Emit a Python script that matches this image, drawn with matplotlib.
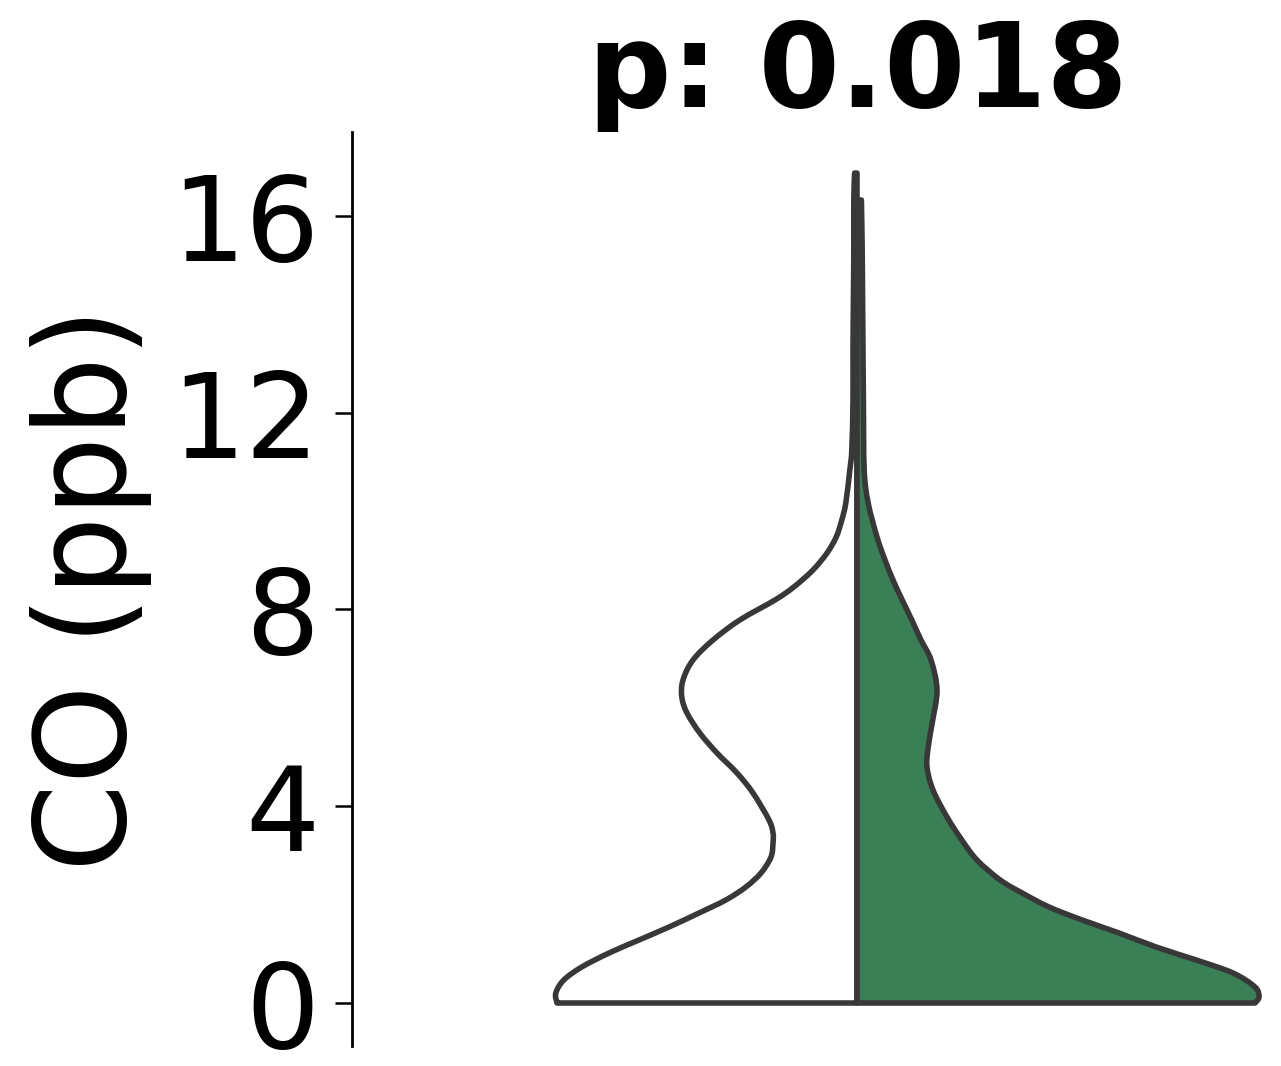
import matplotlib
matplotlib.use("Agg")
import matplotlib.pyplot as plt
from matplotlib.path import Path
from matplotlib.patches import PathPatch
import numpy as np

# ---- data ----
title_text = "p: 0.018"
ylabel_text = "CO (ppb)"
yticks = [0, 4, 8, 12, 16]

# left half (white): CO values (ppb) and relative density width
left_y = [0.000, 0.203, 0.468, 0.732, 1.016, 1.281, 1.545, 1.830, 2.094, 2.358,
          2.643, 2.968, 3.253, 3.456, 3.720, 4.269, 4.676, 5.082, 5.489, 5.895,
          6.221, 6.566, 6.973, 7.379, 7.786, 8.193, 8.457, 8.803, 9.148, 9.473,
          9.819, 10.165, 10.835, 11.242, 12.258, 13.275, 14.291, 15.308, 16.324,
          16.873]
left_w = [0.750, 0.753, 0.733, 0.688, 0.620, 0.545, 0.470, 0.395, 0.328, 0.278,
          0.240, 0.215, 0.210, 0.210, 0.220, 0.260, 0.300, 0.350, 0.393, 0.425,
          0.438, 0.435, 0.410, 0.360, 0.293, 0.205, 0.158, 0.110, 0.075, 0.052,
          0.038, 0.028, 0.018, 0.013, 0.010, 0.010, 0.009, 0.008, 0.008,
          0.006]

# right half (green)
right_y = [0.000, 0.122, 0.325, 0.610, 0.874, 1.138, 1.423, 1.687, 1.952, 2.236,
           2.500, 2.907, 3.314, 3.781, 4.330, 4.798, 5.204, 5.692, 6.363, 6.973,
           7.379, 7.786, 8.193, 8.599, 9.006, 9.473, 10.165, 10.835, 12.258,
           13.275, 14.291, 15.308, 16.324]
right_w = [0.995, 1.005, 0.995, 0.940, 0.848, 0.748, 0.655, 0.563, 0.480, 0.413,
           0.358, 0.300, 0.262, 0.225, 0.190, 0.175, 0.178, 0.188, 0.200, 0.185,
           0.160, 0.137, 0.113, 0.090, 0.070, 0.050, 0.028, 0.018, 0.016,
           0.015, 0.014, 0.013, 0.011]

# ---- style ----
edge = "#383838"
green = "#3b7f57"
half_width = 0.4
lw_edge = 4.0


def half_violin_path(ys, ws, side):
    """Closed path: centre bottom -> smooth density outline -> centre top."""
    pts = np.column_stack([side * np.asarray(ws) * half_width, np.asarray(ys)])
    verts = [(0.0, pts[0, 1]), tuple(pts[0])]
    codes = [Path.MOVETO, Path.LINETO]
    n = len(pts)
    for i in range(n - 1):
        p0 = pts[i - 1] if i > 0 else pts[i]
        p1 = pts[i]
        p2 = pts[i + 1]
        p3 = pts[i + 2] if i + 2 < n else pts[i + 1]
        c1 = p1 + (p2 - p0) / 6.0
        c2 = p2 - (p3 - p1) / 6.0
        verts += [tuple(c1), tuple(c2), tuple(p2)]
        codes += [Path.CURVE4] * 3
    verts += [(0.0, pts[-1, 1]), (0.0, pts[0, 1])]
    codes += [Path.LINETO, Path.CLOSEPOLY]
    return Path(verts, codes)


fig = plt.figure(figsize=(12.81, 10.66), dpi=100)
ax = fig.add_axes([352 / 1281, 20 / 1066, 1000 / 1281, 914 / 1066])

ax.add_patch(PathPatch(half_violin_path(left_y, left_w, -1), facecolor="white",
                       edgecolor=edge, linewidth=lw_edge, joinstyle="round",
                       capstyle="round", zorder=2))
ax.add_patch(PathPatch(half_violin_path(right_y, right_w, 1), facecolor=green,
                       edgecolor=edge, linewidth=lw_edge, joinstyle="round",
                       capstyle="round", zorder=2))

ax.set_xlim(-0.505, 0.495)
ax.set_ylim(-0.874, 17.707)
ax.set_yticks(yticks)
ax.set_yticklabels([str(t) for t in yticks])
ax.set_xticks([])

for s in ["top", "right", "bottom"]:
    ax.spines[s].set_visible(False)
ax.spines["left"].set_linewidth(2.0)
ax.spines["left"].set_color("black")

ax.tick_params(axis="y", labelsize=84, length=12, width=1.8, pad=11.5, colors="black")

ax.set_title(title_text, fontsize=84, fontweight="bold", pad=17, x=0.506)
ax.set_ylabel(ylabel_text, fontsize=90.5)
ax.yaxis.set_label_coords(-0.2, 0.5)

fig.savefig("out.png", dpi=100)
